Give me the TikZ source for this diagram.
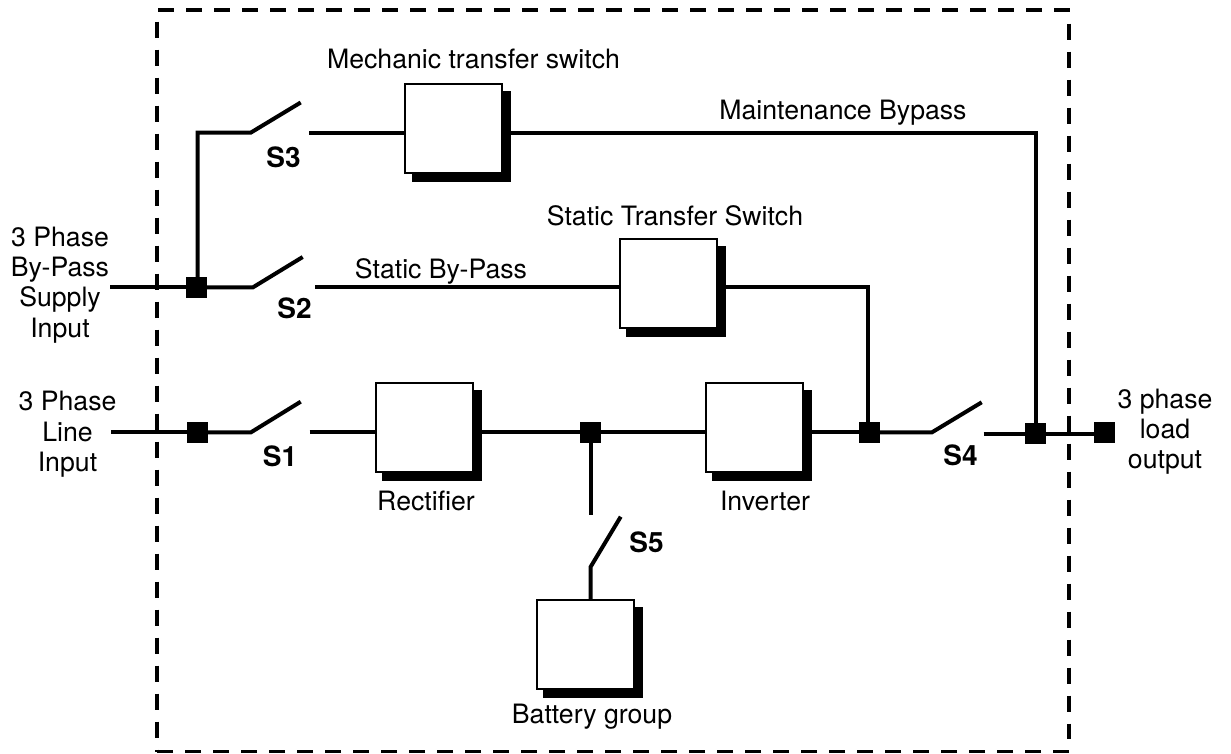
\documentclass[tikz,border=0pt]{standalone}
\usepackage{fontspec}
\setmainfont{TeX Gyre Heros}
\tikzset{
  wire/.style={line width=3pt,black},
  frame/.style={line width=2.9pt,black,dash pattern=on 12pt off 9pt},
  unit/.style={draw=black,fill=white,line width=1.5pt,minimum width=72.75pt,minimum height=66.75pt,inner sep=0pt,outer sep=0pt},
  unitshadow/.style={fill=black,minimum width=74.5pt,minimum height=68pt,inner sep=0pt,outer sep=0pt},
  junction/.style={fill=black,minimum width=15.6pt,minimum height=15.6pt,inner sep=0pt,outer sep=0pt},
  lab/.style={anchor=base,inner sep=0pt,font=\fontsize{20pt}{24pt}\selectfont},
  swlab/.style={anchor=base,inner sep=0pt,font=\fontsize{21pt}{24pt}\selectfont\bfseries},
}
\begin{document}
\begin{tikzpicture}[x=0.75pt,y=-0.75pt]
\useasboundingbox (0,0) rectangle (1231,753);
% frame
\coordinate (tl) at (158,10); \coordinate (tr) at (1070,10);
\coordinate (rt) at (1069,23.5); \coordinate (rb) at (1069,739);
\coordinate (bl) at (157,751.5); \coordinate (br) at (1069,751.5);
\coordinate (lt) at (157,21.7); \coordinate (lm) at (157,737.7);
\coordinate (ln) at (157,749.7); \coordinate (lb) at (157,751.5);
\draw[frame] (tl) -- (tr);
\draw[frame] (rt) -- (rb);
\draw[frame] (br) -- (bl);
\draw[frame] (lt) -- (lm);
\draw[line width=2.9pt] (ln) -- (lb);
% units
\node[unitshadow] (mechS) at (461.5,136.5) {};
\node[unit] (mech) at (453.5,128.5) {};
\node[unitshadow] (statS) at (676,291.5) {};
\node[unit] (stat) at (668,283.5) {};
\node[unitshadow] (rectS) at (432,435.5) {};
\node[unit] (rect) at (424,427.5) {};
\node[unitshadow] (invS) at (762,435.5) {};
\node[unit] (inv) at (754,427.5) {};
\node[unitshadow] (batS) at (593,652.5) {};
\node[unit] (bat) at (585,644) {};
% junctions
\node[junction] (jA) at (196.7,287.3) {};
\node[junction] (jB) at (197.5,432.3) {};
\node[junction] (jC) at (590.5,432.3) {};
\node[junction] (jD) at (869.5,432.3) {};
\node[junction] (jE) at (1035.5,433.6) {};
\node[junction] (jF) at (1104.7,432.5) {};
% free ends
\coordinate (inA) at (110,287.3);
\coordinate (inB) at (111,432.3);
\coordinate (s3a) at (251,132.5); \coordinate (s3b) at (300.7,102.5); \coordinate (s3c) at (309,132.5);
\coordinate (s2a) at (253,287.3); \coordinate (s2b) at (302.7,257); \coordinate (s2c) at (315,287.3);
\coordinate (s1a) at (251,432.3); \coordinate (s1b) at (300.7,401.7); \coordinate (s1c) at (309.7,432.3);
\coordinate (s4a) at (932,432.3); \coordinate (s4b) at (981.7,402.3); \coordinate (s4c) at (983.7,433.6);
\coordinate (s5a) at (590.5,515); \coordinate (s5b) at (620.7,516.7); \coordinate (s5c) at (590.7,566.7);
\coordinate (c3) at (197.7,132.5);
\coordinate (cM) at (1036,132.5);
\coordinate (cS) at (867.6,287.3);
% wires
\draw[wire] (inA) -- (jA);
\draw[wire] (jA) -- (s2a) -- (s2b);
\draw[wire] (c3 |- jA.north) -- (c3) -- (s3a) -- (s3b);
\draw[wire] (s3c) -- (s3c -| mech.west);
\draw[wire] (s3c -| mechS.east) -- (cM) -- (cM |- jE.north);
\draw[wire] (s2c) -- (s2c -| stat.west);
\draw[wire] (s2c -| statS.east) -- (cS) -- (cS |- jD.north);
\draw[wire] (inB) -- (jB);
\draw[wire] (jB) -- (s1a) -- (s1b);
\draw[wire] (s1c) -- (s1c -| rect.west);
\draw[wire] (s1c -| rectS.east) -- (jC);
\draw[wire] (jC) -- (s1c -| inv.west);
\draw[wire] (s1c -| invS.east) -- (jD);
\draw[wire] (jD) -- (s4a) -- (s4b);
\draw[wire] (s4c) -- (jE);
\draw[wire] (jE) -- (jE -| jF.west);
\draw[wire] (jC) -- (s5a);
\draw[wire] (s5b) -- (s5c) -- (s5c |- bat.north);
% labels
\node[lab] (t1) at (473.5,68) {Mechanic transfer switch};
\node[lab] (t2) at (843,119.5) {Maintenance Bypass};
\node[lab] (t3) at (675,225.5) {Static Transfer Switch};
\node[lab] (t4) at (441,278.5) {Static By-Pass};
\node[lab] (t5) at (426,510.5) {Rectifier};
\node[lab] (t6) at (765,510.5) {Inverter};
\node[lab] (t7) at (592,723) {Battery group};
\node[lab] (a1) at (60,246) {3 Phase};
\node[lab] (a2) at (60,276) {By-Pass};
\node[lab] (a3) at (60,306) {Supply};
\node[lab] (a4) at (60,337) {Input};
\node[lab] (b1) at (67.5,410) {3 Phase};
\node[lab] (b2) at (67.5,441) {Line};
\node[lab] (b3) at (67.5,471) {Input};
\node[lab] (c1) at (1165,408.5) {3 phase};
\node[lab] (c2) at (1165,438) {load};
\node[lab] (c3t) at (1165,468) {output};
\node[swlab] (S3) at (283.5,167) {S3};
\node[swlab] (S2) at (294.5,318) {S2};
\node[swlab] (S1) at (280,466) {S1};
\node[swlab] (S4) at (960.5,465) {S4};
\node[swlab] (S5) at (646.5,552) {S5};
\end{tikzpicture}
\end{document}
